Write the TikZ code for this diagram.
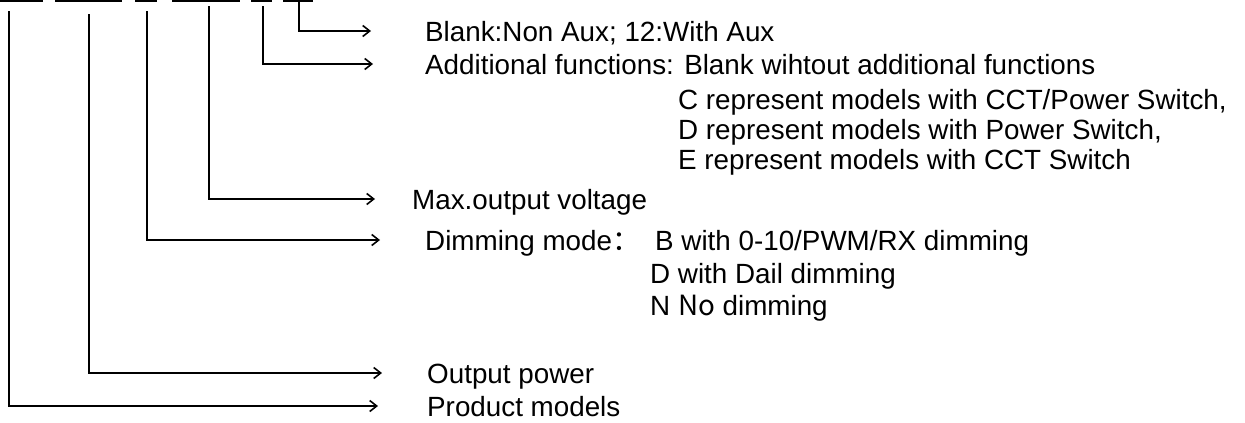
\documentclass[tikz,border=0pt]{standalone}
\usepackage{fontspec}
\setmainfont{Liberation Sans}
\newfontfamily\cjk{Noto Sans CJK SC}
\usetikzlibrary{arrows.meta, positioning}
\tikzset{
	lbl/.style={inner sep=0pt, anchor=west, text height=20pt, text depth=0pt,
		font=\fontsize{27.8pt}{33pt}\selectfont},
	bar/.style={line width=1.6pt},
	marr/.style={-{Straight Barb[length=7pt, width=11pt, line width=1.6pt]},
		line width=1.8pt}
}

\begin{document}
\begin{tikzpicture}[x=1pt, y=-1pt]
	\useasboundingbox (0,0) rectangle (1245,423);
	% code field underlines
	\draw[bar] (0,0.8) -- (43,0.8);
	\draw[bar] (55,0.8) -- (122,0.8);
	\draw[bar] (135,0.8) -- (157,0.8);
	\draw[bar] (172,0.8) -- (240,0.8);
	\draw[bar] (251,0.8) -- (272,0.8);
	\draw[bar] (283,0.8) -- (313,0.8);
	\coordinate (bmodel) at (9,11);
	\coordinate (bpower) at (89,14);
	\coordinate (bdim) at (147,11);
	\coordinate (bvolt) at (209,6);
	\coordinate (baddfn) at (263,6);
	\coordinate (baux) at (299,0);

	% labels
	\node[lbl] (aux) at (425,31) {Blank:Non Aux; 12:With Aux};
	\node[lbl] (addfn) at (425,64) {Additional functions: Blank wihtout additional functions};
	\node[lbl] (cfn) at (678,99) {C represent models with CCT/Power Switch,};
	\node[lbl, below=10pt of cfn.south west, anchor=north west] (dfn) {D represent models with Power Switch,};
	\node[lbl, below=10pt of dfn.south west, anchor=north west] (efn) {E represent models with CCT Switch};
	\node[lbl] (volt) at (412,199) {Max.output voltage};
	\node[lbl] (dim) at (425,240) {\makebox[230pt][l]{Dimming mode{\cjk ：}}B with 0-10/PWM/RX dimming};
	\node[lbl] (dail) at (650,273) {D with Dail dimming};
	\node[lbl, below=12pt of dail.south west, anchor=north west] (nodim) {N {\cjk No} dimming};
	\node[lbl] (power) at (427,373) {Output power};
	\node[lbl] (model) at (427,406) {Product models};

	% arrows
	\draw[marr] (baux) |- ([xshift=-54pt]aux.west);
	\draw[marr] (baddfn) |- ([xshift=-52pt]addfn.west);
	\draw[marr] (bvolt) |- ([xshift=-37pt]volt.west);
	\draw[marr] (bdim) |- ([xshift=-45pt]dim.west);
	\draw[marr] (bpower) |- ([xshift=-45pt]power.west);
	\draw[marr] (bmodel) |- ([xshift=-49pt]model.west);
\end{tikzpicture}
\end{document}
